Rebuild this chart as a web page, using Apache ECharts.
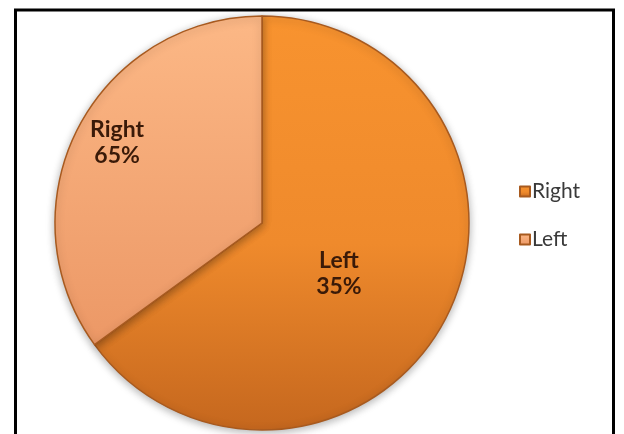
<!DOCTYPE html>
<html>
<head>
<meta charset="utf-8">
<script src="https://cdn.jsdelivr.net/npm/echarts@6/dist/echarts.min.js"></script>
<style>
  html, body { margin: 0; padding: 0; background: #fff; }
  #chart { width: 624px; height: 434px; }
</style>
</head>
<body>
<div id="chart"></div>
<script>
// Share of responses by side
const categories = ['Right', 'Left'];
const shares = [65, 35];

// Fill colours for each slice (top, middle, bottom shading)
const sliceTop = ['#f8932f', '#fcb886'];
const sliceMid = ['#ef8a2c', '#f3a674'];
const sliceBottom = ['#c5671e', '#ec9866'];

const chart = echarts.init(document.getElementById('chart'), null, { renderer: 'canvas' });

const pieData = categories.map((name, i) => ({
  name,
  value: shares[i],
  itemStyle: {
    color: new echarts.graphic.LinearGradient(0, 0, 0, 1, [
      { offset: 0, color: sliceTop[i] },
      { offset: 0.55, color: sliceMid[i] },
      { offset: 1, color: sliceBottom[i] }
    ])
  }
}));

// Each slice carries the caption of its partner entry
function partnerCaption(p) {
  const j = (p.dataIndex + 1) % categories.length;
  return categories[j] + '\n' + shares[j] + '%';
}

// Small nudges for the caption placement inside each slice
const labelNudge = [[-18, 2], [-50, -32]];

chart.setOption({
  animation: false,
  graphic: [{
    type: 'rect',
    shape: { x: 15.5, y: 10, width: 598, height: 440 },
    style: { fill: 'none', stroke: '#000', lineWidth: 3 },
    silent: true
  }],
  legend: {
    orient: 'vertical',
    left: 514,
    top: 176,
    itemWidth: 10,
    itemHeight: 10,
    itemGap: 27,
    icon: 'rect',
    data: categories,
    textStyle: {
      fontFamily: 'Lato',
      fontSize: 21,
      color: '#3a3a3a',
      padding: [0, 0, 0, -3]
    }
  },
  series: [{
    type: 'pie',
    center: [262, 223],
    radius: 207,
    startAngle: 90,
    clockwise: true,
    avoidLabelOverlap: false,
    data: pieData,
    itemStyle: {
      borderColor: '#a85a1f',
      borderWidth: 1.5,
      shadowBlur: 8,
      shadowColor: 'rgba(0,0,0,0.3)',
      shadowOffsetY: 2
    },
    label: {
      show: true,
      position: 'inside',
      formatter: partnerCaption,
      fontFamily: 'Lato',
      fontWeight: 'bold',
      fontSize: 23,
      lineHeight: 26,
      color: '#3a1a08',
      align: 'center'
    },
    labelLayout: p => ({ dx: labelNudge[p.dataIndex][0], dy: labelNudge[p.dataIndex][1] }),
    labelLine: { show: false },
    emphasis: { disabled: true }
  }]
});
</script>
</body>
</html>
